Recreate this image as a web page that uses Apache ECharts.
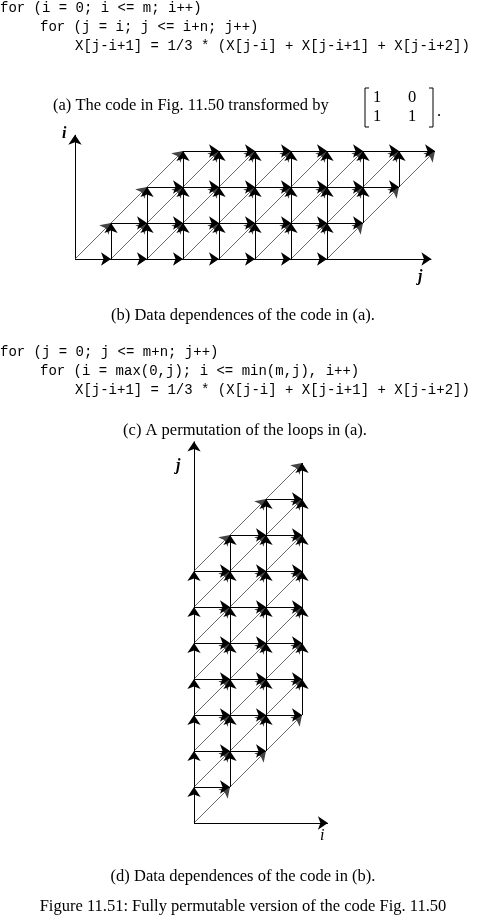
<!DOCTYPE html>
<html><head><meta charset="utf-8">
<script src="https://cdn.jsdelivr.net/npm/echarts@6/dist/echarts.min.js"></script>
<style>html,body{margin:0;padding:0;background:#fff}#c{width:485px;height:922px}</style>
</head><body><div id="c"></div>
<script>
// iteration space: i = 0..m, j = i..i+n
const M = 3;
const N = 7;
const codeA = ["for (i = 0; i <= m; i++)", "for (j = i; j <= i+n; j++)", "X[j-i+1] = 1/3 * (X[j-i] + X[j-i+1] + X[j-i+2])"];
const codeC = ["for (j = 0; j <= m+n; j++)", "for (i = max(0,j); i <= min(m,j), i++)", "X[j-i+1] = 1/3 * (X[j-i] + X[j-i+1] + X[j-i+2])"];
const captions = ["(a) The code in Fig. 11.50 transformed by", "(b) Data dependences of the code in (a).", "(c) A permutation of the loops in (a).", "(d) Data dependences of the code in (b).", "Figure 11.51: Fully permutable version of the code Fig. 11.50"];

function valid(i, j) { return i >= 0 && i <= M && j >= i && j <= i + N; }
// edges in (i,j) space
const straight = [], diag = [];
for (let i = 0; i <= M; i++) for (let j = i; j <= i + N; j++) {
  if (valid(i, j + 1)) straight.push([[i, j], [i, j + 1]]);
  if (valid(i + 1, j)) straight.push([[i, j], [i + 1, j]]);
  if (valid(i + 1, j + 1)) diag.push([[i, j], [i + 1, j + 1]]);
}
// (b): x=j, y=i ; (d): x=i, y=j
const toB = e => ({coords: e.map(p => [p[1], p[0]])});
const toD = e => ({coords: e.map(p => [p[0], p[1]])});

const mono = "'Liberation Mono', 'DejaVu Sans Mono', monospace";
const serif = "'Liberation Serif', 'DejaVu Serif', serif";
const txt = (x, y, s, font, size, align, style) => ({type: 'text', x, y, style: {text: s, font: (style || '') + ' ' + size + 'px ' + font, fill: '#000', textAlign: align || 'left', textVerticalAlign: 'middle'}});
const ln = (x1, y1, x2, y2) => ({type: 'line', shape: {x1, y1, x2, y2}, style: {stroke: '#000', lineWidth: 1}});

const graphic = [
  txt(0, 8, codeA[0], mono, 14), txt(40, 27, codeA[1], mono, 14), txt(75, 46, codeA[2], mono, 14),
  txt(53, 106, captions[0], serif, 16.5),
  txt(373, 98, '1', serif, 16.5), txt(408, 98, '0', serif, 16.5),
  txt(373, 117, '1', serif, 16.5), txt(408, 117, '1', serif, 16.5),
  ln(365, 88, 365, 127), ln(365, 88, 369, 88), ln(365, 127, 369, 127),
  ln(433, 88, 433, 127), ln(429, 88, 433, 88), ln(429, 127, 433, 127),
  txt(437, 112, '.', serif, 16.5),
  txt(62, 134, 'i', serif, 16, 'left', 'italic bold'),
  txt(418, 277, 'j', serif, 16, 'left', 'italic bold'),
  txt(243, 316, captions[1], serif, 16.5, 'center'),
  txt(0, 352, codeC[0], mono, 14), txt(40, 371, codeC[1], mono, 14), txt(75, 390, codeC[2], mono, 14),
  txt(245, 431, captions[2], serif, 16.5, 'center'),
  txt(176, 466, 'j', serif, 16, 'left', 'italic bold'),
  txt(320, 836, 'i', serif, 16, 'left', 'italic'),
  txt(243, 877, captions[3], serif, 16.5, 'center'),
  txt(243, 907, captions[4], serif, 16.5, 'center')
];

const hiddenAxis = (min, max, idx) => ({type: 'value', min, max, show: false, gridIndex: idx});
const arrowSeries = (data, idx, color, width) => ({
  type: 'lines', coordinateSystem: 'cartesian2d', xAxisIndex: idx, yAxisIndex: idx,
  data, symbol: ['none', 'arrow'], symbolSize: 10, clip: false, silent: true,
  lineStyle: {color, width, opacity: 1, curveness: 0}
});

const chart = echarts.init(document.getElementById('c'));
chart.setOption({
  animation: false,
  grid: [
    {left: 75, top: 151, width: 360, height: 108},
    {left: 194, top: 463, width: 108, height: 360}
  ],
  xAxis: [hiddenAxis(0, 10, 0), hiddenAxis(0, 3, 1)],
  yAxis: [hiddenAxis(0, 3, 0), hiddenAxis(0, 10, 1)],
  graphic,
  series: [
    arrowSeries([{coords: [[0, 0], [9.9, 0]]}, {coords: [[0, 0], [0, 3.45]]}], 0, '#000', 1),
    arrowSeries(diag.map(toB), 0, '#444', 0.8),
    arrowSeries(straight.map(toB), 0, '#000', 1),
    arrowSeries([{coords: [[0, 0], [3.72, 0]]}, {coords: [[0, 0], [0, 10.6]]}], 1, '#000', 1),
    arrowSeries(diag.map(toD), 1, '#444', 0.8),
    arrowSeries(straight.map(toD), 1, '#000', 1)
  ]
});
</script></body></html>
